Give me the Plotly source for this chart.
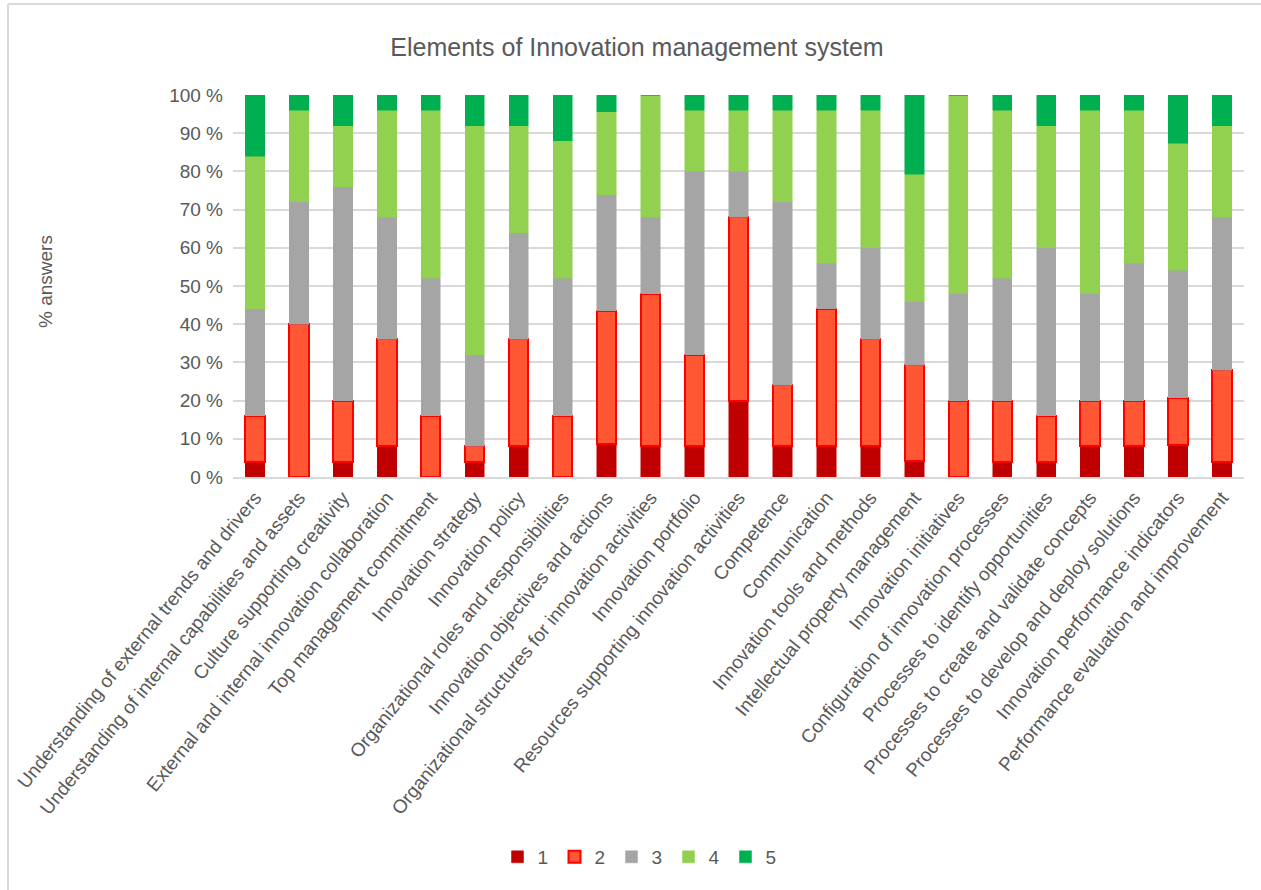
import plotly.graph_objects as go

categories = [
    "Understanding of external trends and drivers",
    "Understanding of internal capabilities and assets",
    "Culture supporting creativity",
    "External and internal innovation collaboration",
    "Top management commitment",
    "Innovation strategy",
    "Innovation policy",
    "Organizational roles and responsibilities",
    "Innovation objectives and actions",
    "Organizational structures for innovation activities",
    "Innovation portfolio",
    "Resources supporting innovation activities",
    "Competence",
    "Communication",
    "Innovation tools and methods",
    "Intellectual property management",
    "Innovation initiatives",
    "Configuration of innovation processes",
    "Processes to identify opportunities",
    "Processes to create and validate concepts",
    "Processes to develop and deploy solutions",
    "Innovation performance indicators",
    "Performance evaluation and improvement",
]

series_names = ["1", "2", "3", "4", "5"]
s1 = [4, 0, 4, 8, 0, 4, 8, 0, 8.7, 8, 8, 20, 8, 8, 8, 4.2, 0, 4, 4, 8, 8, 8.3, 4]
s2 = [12, 40, 16, 28, 16, 4, 28, 16, 34.8, 40, 24, 48, 16, 36, 28, 25, 20, 16, 12, 12, 12, 12.5, 24]
s3 = [28, 32, 56, 32, 36, 24, 28, 36, 30.4, 20, 48, 12, 48, 12, 24, 16.7, 28, 32, 44, 28, 36, 33.3, 40]
s4 = [40, 24, 16, 28, 44, 60, 28, 36, 21.7, 32, 16, 16, 24, 40, 36, 33.3, 52, 44, 32, 48, 40, 33.3, 24]
s5 = [16, 4, 8, 4, 4, 8, 8, 12, 4.3, 0, 4, 4, 4, 4, 4, 20.8, 0, 4, 8, 4, 4, 12.5, 8]
series_values = [s1, s2, s3, s4, s5]

fills = ["#C00000", "#FF5733", "#A5A5A5", "#92D050", "#00B050"]
outlines = ["#C00000", "#FF0000", "#A5A5A5", "#92D050", "#00B050"]
outline_w = [0.5, 2, 0.5, 0.5, 0.5]

y_ticks = [0, 10, 20, 30, 40, 50, 60, 70, 80, 90, 100]
y_ticktext = [f"{v} %" for v in y_ticks]

FONT = "Liberation Sans, Arial, sans-serif"
GREY = "#595959"

fig = go.Figure()
for name, vals, fc, lc, lw in zip(series_names, series_values, fills, outlines, outline_w):
    fig.add_trace(go.Bar(
        x=categories, y=vals, name=name,
        marker=dict(color=fc, line=dict(color=lc, width=lw)),
    ))

W, H = 1261, 890
L, R, T, B = 233, 17, 95, 413
pw, ph = W - L - R, H - T - B

def px_x(p):
    return (p - L) / pw

def px_y(p):
    return (H - B - p) / ph

fig.update_layout(
    width=W, height=H,
    barmode="stack",
    bargap=0.56,
    plot_bgcolor="white",
    paper_bgcolor="white",
    margin=dict(l=L, r=R, t=T, b=B, autoexpand=False),
    font=dict(family=FONT, color=GREY, size=18),
    title=dict(text="Elements of Innovation management system",
               x=637 / W, xanchor="center", y=1 - 47 / H, yanchor="middle",
               font=dict(size=25, color=GREY, family=FONT)),
    xaxis=dict(tickangle=-51, tickfont=dict(size=19, color=GREY, family=FONT),
               showline=True, linecolor="#D9D9D9", linewidth=2,
               ticks="", automargin=False),
    yaxis=dict(range=[0, 100], tickmode="array", tickvals=y_ticks, ticktext=y_ticktext,
               tickfont=dict(size=19, color=GREY, family=FONT),
               showgrid=True, gridcolor="#D9D9D9", gridwidth=2,
               zeroline=False, ticks="", ticklabelstandoff=9,
               automargin=False),
    legend=dict(orientation="h", x=px_x(640), xanchor="center",
                y=px_y(857), yanchor="middle",
                font=dict(size=19, color=GREY, family=FONT),
                itemwidth=30, entrywidth=12, entrywidthmode="pixels",
                traceorder="normal"),
    annotations=[dict(text="% answers", textangle=-90, showarrow=False,
                      xref="paper", yref="paper", x=px_x(45), y=px_y(282),
                      xanchor="center", yanchor="middle",
                      font=dict(size=19, color=GREY, family=FONT))],
    shapes=[
        dict(type="line", xref="paper", yref="paper",
             x0=px_x(8), x1=px_x(1270), y0=px_y(4), y1=px_y(4),
             line=dict(color="#D9D9D9", width=2)),
        dict(type="line", xref="paper", yref="paper",
             x0=px_x(8), x1=px_x(8), y0=px_y(4), y1=px_y(900),
             line=dict(color="#D9D9D9", width=2)),
    ],
)

fig.write_html("out.html")
